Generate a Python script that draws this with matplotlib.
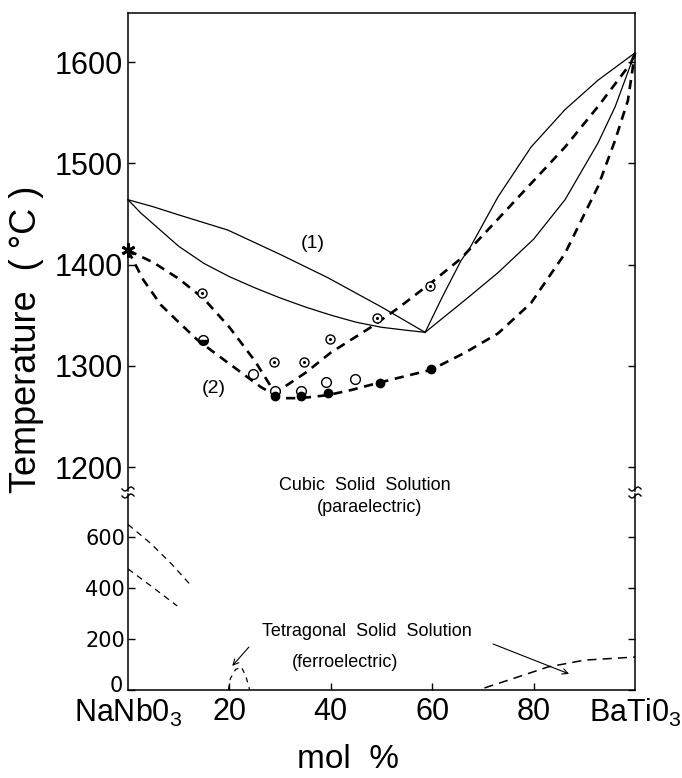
import numpy as np
import matplotlib
matplotlib.use('Agg')
import matplotlib.pyplot as plt
from matplotlib import font_manager
from matplotlib.transforms import ScaledTranslation

# font: narrow if available
names = {f.name for f in font_manager.fontManager.ttflist}
NARROW = 'Liberation Sans Narrow' if 'Liberation Sans Narrow' in names else 'Liberation Sans'
plt.rcParams['font.family'] = [NARROW, 'DejaVu Sans']
plt.rcParams['mathtext.fontset'] = 'custom'
plt.rcParams['mathtext.rm'] = NARROW

# ---- data (mol % BaTiO3, temperature C) ----
# curves (1): liquidus / solidus
liq_left_x = [0, 5, 10, 19.7, 30, 39.4, 50, 58.6]
liq_left_t = [1464, 1457, 1449, 1434, 1410, 1387, 1358, 1333]
sol_left_x = [0, 2.5, 5, 10, 15, 20, 25, 30, 35, 40, 45, 50, 55, 58.6]
sol_left_t = [1464, 1451, 1440, 1418, 1401, 1388, 1377, 1367, 1358, 1350, 1343, 1338, 1335, 1333]
liq_right_x = [58.6, 62, 65.7, 67.5, 73, 79.5, 86.2, 92.7, 100]
liq_right_t = [1333, 1368, 1404, 1417, 1467, 1516, 1553, 1582, 1609]
sol_right_x = [58.6, 66.5, 73, 80, 86.2, 92.7, 96.1, 100]
sol_right_t = [1333, 1365, 1392, 1425, 1464, 1520, 1556, 1609]

# curves (2): dashed
dash_a_x = [0, 5, 10, 15, 20, 25, 29, 35, 40, 47.9, 53.3, 59.8, 65.7, 73, 79.5, 86.2, 92.7, 99.2, 100]
dash_a_t = [1414, 1402, 1386, 1366, 1338, 1305, 1273, 1293, 1313, 1338, 1357, 1382, 1406, 1445, 1480, 1516, 1556, 1599, 1609]
dash_b_x = [0, 3, 6.5, 10, 13.8, 19.7, 26.2, 30, 34.1, 39.4, 44, 49.3, 53.3, 59.8, 66.5, 73, 79.5, 86.2, 92.7, 96.1, 98.6, 100]
dash_b_t = [1414, 1385, 1360, 1343, 1325, 1303, 1279, 1268, 1268, 1271, 1276, 1283, 1288, 1296, 1313, 1332, 1362, 1411, 1477, 1523, 1562, 1609]

# measured points
dot_x = [14.6, 28.8, 34.7, 39.8, 49.1, 59.6]
dot_t = [1372, 1304, 1304, 1326, 1347, 1379]
open_x = [24.7, 29, 34.1, 39.1, 44.8]
open_t = [1292, 1275, 1275, 1284, 1287]
full_x = [29, 34.1, 39.4, 49.7, 59.8]
full_t = [1270, 1270, 1273, 1283, 1297]
half_x = [14.8]
half_t = [1325]
star_x = [0]
star_t = [1414]

# low temperature transitions
low1_x = [0, 4.4, 8.5, 12.7]
low1_t = [648, 575, 495, 403]
low2_x = [0, 5, 9.7]
low2_t = [474, 400, 329]
tet_x = [19.8, 20.2, 21.2, 22.4, 23.3, 24]
tet_t = [0, 45, 80, 90, 50, 0]
bt_x = [70.3, 76, 82.8, 90.1, 100]
bt_t = [8, 45, 90, 117, 129]

xticks = [0, 20, 40, 60, 80, 100]
xticklabels = ['NaNb0$_\\mathrm{3}$', '20', '40', '60', '80', 'BaTi0$_\\mathrm{3}$']
upper_ticks = [1200, 1300, 1400, 1500, 1600]
lower_ticks = [0, 200, 400, 600]

W, H = 682, 778
fig = plt.figure(figsize=(W / 100, H / 100), dpi=100)
left, width = 128 / W, 507 / W
ax1 = fig.add_axes([left, 1 - 491 / H, width, 478 / H])
ax2 = fig.add_axes([left, 1 - 690 / H, width, 196 / H])

for ax in (ax1, ax2):
    ax.set_xlim(0, 100)
    for s in ax.spines.values():
        s.set_linewidth(1.1)
    ax.tick_params(direction='in', length=5, width=1.0, right=True, top=False)
ax1.set_ylim(1176.3, 1648.4)
ax2.set_ylim(0, 767)
ax1.spines['bottom'].set_visible(False)
ax2.spines['top'].set_visible(False)
ax1.tick_params(bottom=False, labelbottom=False)

ax1.set_yticks(upper_ticks)
ax1.set_yticklabels([str(t) for t in upper_ticks], fontsize=22, family='Liberation Sans')
ax1.tick_params(axis='y', pad=4)
ax2.set_yticks(lower_ticks)
ax2.set_yticklabels([str(t) for t in lower_ticks], fontsize=15, family='DejaVu Sans')
ax2.tick_params(axis='y', pad=2)
ax2.set_xticks(xticks)
ax2.set_xticklabels(xticklabels, fontsize=22)
ax2.tick_params(axis='x', pad=5)
xt = ax2.xaxis.get_major_ticks()
xt[0].tick1line.set_visible(False)
xt[-1].tick1line.set_visible(False)

# lift the "0" label a bit so it sits above NaNbO3 like the original
zero_lbl = ax2.get_yticklabels()[0]
zero_lbl.set_transform(zero_lbl.get_transform() + ScaledTranslation(-2 / 72, 4 / 72, fig.dpi_scale_trans))

# solid lines (1)
for xs, ts in [(liq_left_x, liq_left_t), (sol_left_x, sol_left_t),
               (liq_right_x, liq_right_t), (sol_right_x, sol_right_t)]:
    ax1.plot(xs, ts, color='black', lw=0.9, clip_on=False)

# dashed lines (2)
for xs, ts in [(dash_a_x, dash_a_t), (dash_b_x, dash_b_t)]:
    ax1.plot(xs, ts, color='black', lw=1.9, dashes=(3.5, 2.5), clip_on=False)

# markers
ax1.plot(dot_x, dot_t, 'o', ms=6.5, mfc='white', mec='black', mew=1.0, zorder=5)
ax1.plot(dot_x, dot_t, '.', ms=2.5, color='black', zorder=6)
ax1.plot(open_x, open_t, 'o', ms=7, mfc='white', mec='black', mew=1.0, zorder=5)
ax1.plot(full_x, full_t, 'o', ms=6, color='black', zorder=6)
ax1.plot(half_x, half_t, 'o', ms=7, mfc='black', mec='black', fillstyle='bottom',
         markerfacecoloralt='white', zorder=6)
ax1.plot(star_x, star_t, marker=(6, 2, 0), ms=10, mew=2, color='black', clip_on=False, zorder=7)

ax1.text(36.5, 1421, '(1)', fontsize=14, ha='center', va='center')
ax1.text(17, 1278, '(2)', fontsize=14, ha='center', va='center')

# lower panel
ax2.plot(low1_x, low1_t, color='black', lw=0.9, dashes=(5, 4))
ax2.plot(low2_x, low2_t, color='black', lw=0.9, dashes=(5, 4))
ax2.plot(tet_x, tet_t, color='black', lw=0.9, dashes=(4, 4), clip_on=False)
ax2.plot(bt_x, bt_t, color='black', lw=1.1, dashes=(6, 4))

ax2.text(47.1, 227, 'Tetragonal  Solid  Solution', fontsize=13, ha='center', va='center')
ax2.text(42.8, 106, '(ferroelectric)', fontsize=13, ha='center', va='center')
ax2.annotate('', xy=(20.2, 86), xytext=(24.2, 176),
             arrowprops=dict(arrowstyle='->', lw=0.8, color='black'))
ax2.annotate('', xy=(87.5, 59), xytext=(71.5, 184),
             arrowprops=dict(arrowstyle='->', lw=0.8, color='black'))

fig.text(365 / W, 1 - 486 / H, 'Cubic  Solid  Solution', fontsize=13, ha='center', va='center')
fig.text(370 / W, 1 - 507 / H, '(paraelectric)', fontsize=13, ha='center', va='center')

# axis labels
fig.text(27 / W, 1 - 339 / H, 'Temperature  ( °C )', rotation=90, fontsize=26,
         ha='center', va='center')
fig.text(348 / W, 1 - 760 / H, 'mol  %', fontsize=24, ha='center', va='center',
         family='Liberation Sans')

# break marks on both vertical axes
t = np.linspace(0, 1, 20)
for xp in (128, 635):
    for yp in (489, 496):
        xs = xp - 6 + 12 * t
        ys = yp + 2 * np.sin(2 * np.pi * t)
        fig.add_artist(plt.Line2D(xs / W, 1 - ys / H, color='black', lw=1.0))

fig.savefig('out.png', dpi=100)
